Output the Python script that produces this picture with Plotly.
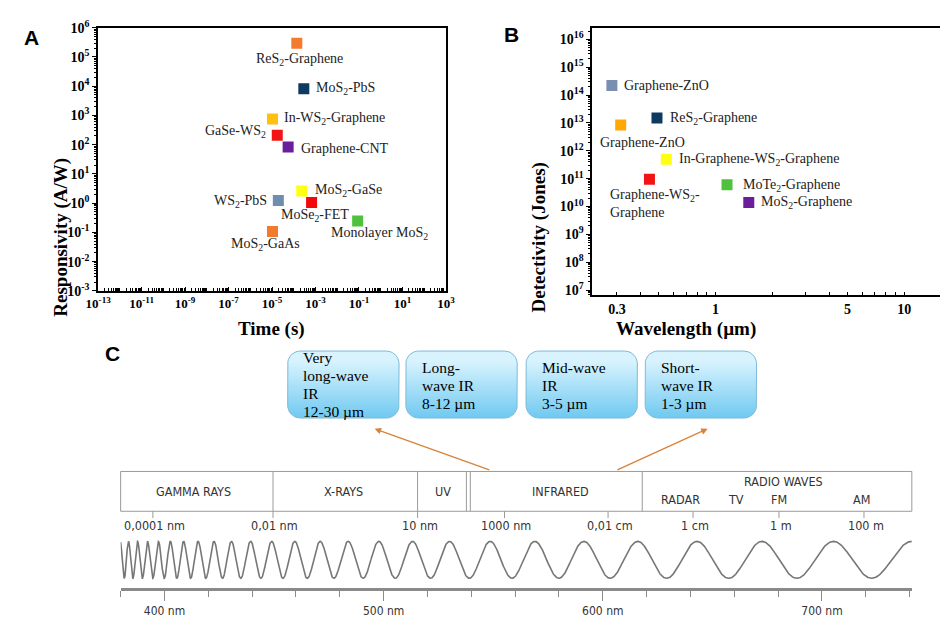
import numpy as np
import plotly.graph_objects as go

W, H = 948, 621

# ---------------- Panel A data ----------------
a_labels = ["ReS<sub>2</sub>-Graphene", "MoS<sub>2</sub>-PbS", "In-WS<sub>2</sub>-Graphene",
            "GaSe-WS<sub>2</sub>", "Graphene-CNT", "MoS<sub>2</sub>-GaSe", "WS<sub>2</sub>-PbS",
            "MoSe<sub>2</sub>-FET", "Monolayer MoS<sub>2</sub>", "MoS<sub>2</sub>-GaAs"]
a_time = [1.38e-4, 2.9e-4, 1.05e-5, 1.74e-5, 5.5e-5, 2.34e-4, 1.95e-5, 6.6e-4, 8.7e-2, 1.05e-5]
a_resp = [2.95e5, 8.1e3, 7.6e2, 2.1e2, 83, 2.6, 1.23, 1.05, 0.245, 0.107]
a_colors = ["#F47A2E", "#0D3A5E", "#FFC010", "#F21414", "#6A1E9C", "#FFFF10",
            "#6E8EAF", "#F20A0A", "#4DC23A", "#F27A2C"]
a_xticks = [1e-13, 1e-11, 1e-9, 1e-7, 1e-5, 1e-3, 1e-1, 1e1, 1e3]
a_xticktext = ["<b>10<sup>-13</sup></b>", "<b>10<sup>-11</sup></b>", "<b>10<sup>-9</sup></b>",
               "<b>10<sup>-7</sup></b>", "<b>10<sup>-5</sup></b>", "<b>10<sup>-3</sup></b>",
               "<b>10<sup>-1</sup></b>", "<b>10<sup>1</sup></b>", "<b>10<sup>3</sup></b>"]
a_yticks = [10.0 ** k for k in range(-3, 7)]
a_yticktext = ["<b>10<sup>%d</sup></b>" % k for k in range(-3, 7)]

# ---------------- Panel B data ----------------
b_labels = ["Graphene-ZnO", "Graphene-ZnO", "ReS<sub>2</sub>-Graphene",
            "In-Graphene-WS<sub>2</sub>-Graphene", "Graphene-WS<sub>2</sub>-<br>Graphene",
            "MoTe<sub>2</sub>-Graphene", "MoS<sub>2</sub>-Graphene"]
b_wl = [0.282, 0.314, 0.489, 0.548, 0.446, 1.15, 1.5]
b_det = [2.2e14, 8.5e12, 1.5e13, 5.0e11, 9.5e10, 6.0e10, 1.4e10]
b_colors = ["#7A8FB0", "#FFA808", "#0D3A5E", "#FFFF10", "#F21414", "#4DC23A", "#6A1E9C"]
b_xticks = [0.3, 1, 5, 10]
b_xticktext = ["<b>0.3</b>", "<b>1</b>", "<b>5</b>", "<b>10</b>"]
b_yticks = [10.0 ** k for k in range(7, 17)]
b_yticktext = ["<b>10<sup>%d</sup></b>" % k for k in range(7, 17)]

# ---------------- Panel C data ----------------
ir_box_lines = [["Very", "long-wave", "IR", "12-30 µm"],
                ["Long-", "wave IR", "8-12 µm"],
                ["Mid-wave", "IR", "3-5 µm"],
                ["Short-", "wave IR", "1-3 µm"]]
band_names = ["GAMMA RAYS", "X-RAYS", "UV", "INFRARED"]
radio_title = "RADIO WAVES"
radio_bands = ["RADAR", "TV", "FM", "AM"]
scale_labels = ["0,0001 nm", "0,01 nm", "10 nm", "1000 nm", "0,01 cm", "1 cm", "1 m", "100 m"]
visible_nm_major = [400, 500, 600, 700]
visible_nm_text = ["400 nm", "500 nm", "600 nm", "700 nm"]

# ---------- layout geometry (pixels) ----------
def fx(x):
    return x / W

def fy(y):
    return 1 - y / H

A_box = (79, 435, 10, 281)
B_box = (585, 942, 10, 285)

serif = "Liberation Serif, Times New Roman, serif"
sans = "Liberation Sans, Arial, sans-serif"
narrow = "Liberation Sans Narrow, DejaVu Sans Condensed, Roboto Condensed, Arial Narrow, sans-serif"

fig = go.Figure()

fig.add_trace(go.Scatter(x=a_time, y=a_resp, mode="markers", xaxis="x", yaxis="y",
                         marker=dict(symbol="square", size=11, color=a_colors, line=dict(width=0)),
                         hoverinfo="skip"))
fig.add_trace(go.Scatter(x=b_wl, y=b_det, mode="markers", xaxis="x2", yaxis="y2",
                         marker=dict(symbol="square", size=11, color=b_colors, line=dict(width=0)),
                         hoverinfo="skip"))

annotations = []
a_lab_pos = [("center", 3, -16), ("left", 10, 0), ("left", 10, 0), ("right", -9, 4),
             ("left", 11, -1), ("left", 11, 1), ("right", -9, -1), ("center", 3, -13),
             ("center", 22, -12), ("center", -7, -13)]
for t, xv, yv, (anc, dx, dy) in zip(a_labels, a_time, a_resp, a_lab_pos):
    annotations.append(dict(x=np.log10(xv), y=np.log10(yv), xref="x", yref="y", text=t,
                            showarrow=False, xanchor=anc, yanchor="middle", xshift=dx, yshift=dy,
                            font=dict(family=serif, size=14, color="#222")))

b_lab_pos = [("left", 10, 0, "middle"), ("center", 22, -18, "middle"), ("left", 11, 0, "middle"),
             ("left", 11, 0, "middle"), ("left", -41, -6, "top"), ("left", 14, -1, "middle"),
             ("left", 10, 0, "middle")]
for t, xv, yv, (anc, dx, dy, ya) in zip(b_labels, b_wl, b_det, b_lab_pos):
    annotations.append(dict(x=np.log10(xv), y=np.log10(yv), xref="x2", yref="y2", text=t,
                            showarrow=False, xanchor=anc, yanchor=ya, xshift=dx, yshift=dy,
                            align="left", font=dict(family=serif, size=14, color="#222")))

for letter, (x, y) in zip(["A", "B", "C"], [(11, 20), (502, 17), (94, 345)]):
    annotations.append(dict(x=fx(x), y=fy(y), xref="paper", yref="paper", text="<b>%s</b>" % letter,
                            showarrow=False, xanchor="center", yanchor="middle",
                            font=dict(family=sans, size=21, color="black")))

annotations += [
    dict(x=fx(220), y=fy(320), xref="paper", yref="paper", text="<b>Time (s)</b>", showarrow=False,
         font=dict(family=serif, size=19, color="black")),
    dict(x=fx(28), y=fy(142), xref="paper", yref="paper", text="<b>Responsivity (A/W)</b>",
         showarrow=False, textangle=-90, font=dict(family=serif, size=19, color="black")),
    dict(x=fx(755), y=fy(320), xref="paper", yref="paper", text="<b>Wavelength (µm)</b>",
         showarrow=False, font=dict(family=serif, size=19, color="black")),
    dict(x=fx(530), y=fy(147), xref="paper", yref="paper", text="<b>Detectivity (Jones)</b>",
         showarrow=False, textangle=-90, font=dict(family=serif, size=19, color="black")),
]

shapes = []

def rounded_rect(x0, y0, x1, y1, r):
    xs, ys = [], []
    corners = [(x1 - r, y0 + r, -90, 0), (x1 - r, y1 - r, 0, 90),
               (x0 + r, y1 - r, 90, 180), (x0 + r, y0 + r, 180, 270)]
    for cx, cy, a0, a1 in corners:
        for a in np.linspace(np.radians(a0), np.radians(a1), 10):
            xs.append(cx + r * np.cos(a))
            ys.append(cy + r * np.sin(a))
    xs.append(xs[0]); ys.append(ys[0])
    return xs, ys

box_left = [273, 394, 517, 639]
box_w, box_top, box_bot = 114, 343, 412
for i, lines in enumerate(ir_box_lines):
    x0 = box_left[i]
    xs, ys = rounded_rect(x0, box_top, x0 + box_w, box_bot, 13)
    fig.add_trace(go.Scatter(x=xs, y=ys, xaxis="x3", yaxis="y3", mode="lines", fill="toself",
                             line=dict(color="#7DBBD8", width=1),
                             fillgradient=dict(type="vertical",
                                               colorscale=[[0, "#5AC0EE"], [1, "#D8F3FE"]],
                                               start=box_bot, stop=box_top),
                             hoverinfo="skip"))
    first = 350 if len(lines) == 4 else 360
    for j, ln in enumerate(lines):
        annotations.append(dict(x=x0 + 14, y=first + j * 18.4, xref="x3", yref="y3", text=ln,
                                showarrow=False, xanchor="left", yanchor="middle",
                                font=dict(family=serif, size=15.5, color="black")))

for (xa, ya, xt, yt) in [(481, 466, 362, 423), (609, 466, 703, 423)]:
    annotations.append(dict(x=xt, y=yt, ax=xa, ay=ya, xref="x3", yref="y3", axref="x3", ayref="y3",
                            text="", showarrow=True, arrowhead=2, arrowsize=1, arrowwidth=1.3,
                            arrowcolor="#D8823A"))

sp_x0, sp_x1, sp_y0, sp_y1 = 102, 912, 467, 508
shapes.append(dict(type="rect", xref="x3", yref="y3", x0=sp_x0, x1=sp_x1, y0=sp_y0, y1=sp_y1,
                   line=dict(color="#9A9A9A", width=1)))
for xd in [258, 406, 456, 460, 636]:
    shapes.append(dict(type="line", xref="x3", yref="y3", x0=xd, x1=xd, y0=sp_y0, y1=sp_y1,
                       line=dict(color="#9A9A9A", width=1)))
for name, xc in zip(band_names, [177, 330, 432, 552]):
    annotations.append(dict(x=xc, y=488, xref="x3", yref="y3", text=name, showarrow=False,
                            font=dict(family=narrow, size=12.5, color="#333")))
annotations.append(dict(x=781, y=477, xref="x3", yref="y3", text=radio_title, showarrow=False,
                        font=dict(family=narrow, size=12.5, color="#333")))
for name, xc in zip(radio_bands, [675, 732, 776, 860]):
    annotations.append(dict(x=xc, y=496, xref="x3", yref="y3", text=name, showarrow=False,
                            font=dict(family=narrow, size=12.5, color="#333")))
scale_tick_x = [135, 258, 406, 495, 601, 688, 776, 863]
for name, xt in zip(scale_labels, scale_tick_x):
    shapes.append(dict(type="line", xref="x3", yref="y3", x0=xt, x1=xt, y0=sp_y1, y1=sp_y1 + 7,
                       line=dict(color="#9A9A9A", width=1)))
    annotations.append(dict(x=xt + 2, y=523, xref="x3", yref="y3", text=name, showarrow=False,
                            font=dict(family=narrow, size=12.5, color="#333")))

# chirped wave illustration over the visible-wavelength ruler (x4/y4 in nm)
nm0, nm1 = 380, 741
xs_nm = np.linspace(nm0, nm1, 3000)
p0, p1 = 3.6, 37.5
k = (p1 - p0) / (nm1 - nm0)
phase = 2 * np.pi / k * np.log((p0 + k * (xs_nm - nm0)) / p0)
wave = np.cos(phase - phase[-1])
fig.add_trace(go.Scatter(x=xs_nm, y=wave, xaxis="x4", yaxis="y4", mode="lines",
                         line=dict(color="#777777", width=1.6), hoverinfo="skip"))

fig.update_layout(
    width=W, height=H, margin=dict(l=0, r=0, t=0, b=0),
    paper_bgcolor="white", plot_bgcolor="rgba(0,0,0,0)", showlegend=False,
    xaxis=dict(type="log", domain=[fx(A_box[0]), fx(A_box[1])], range=[-13, 3], anchor="y",
               tickvals=a_xticks, ticktext=a_xticktext, ticks="inside", ticklen=4, tickwidth=1.3,
               tickcolor="black", showline=True, mirror=True, linewidth=2, linecolor="black",
               showgrid=False, zeroline=False,
               minor=dict(ticks="inside", ticklen=2.5, tickcolor="black", dtick="D1", showgrid=False),
               tickfont=dict(family=serif, size=13, color="black")),
    yaxis=dict(type="log", domain=[fy(A_box[3]), fy(A_box[2])], range=[-3, 6], anchor="x",
               tickvals=a_yticks, ticktext=a_yticktext, ticks="outside", ticklen=4, tickwidth=1.3,
               tickcolor="black", showline=True, mirror=True, linewidth=2, linecolor="black",
               showgrid=False, zeroline=False,
               minor=dict(ticks="outside", ticklen=2, tickcolor="black", dtick="D1", showgrid=False),
               tickfont=dict(family=serif, size=14, color="black")),
    xaxis2=dict(type="log", domain=[fx(B_box[0]), fx(B_box[1])], range=[-0.653, 1.196], anchor="y2",
                tickvals=b_xticks, ticktext=b_xticktext, ticks="inside", ticklen=3, tickwidth=1.3,
                tickcolor="black", showline=True, mirror=True, linewidth=2, linecolor="black",
                showgrid=False, zeroline=False,
                minor=dict(ticks="inside", ticklen=2.5, tickcolor="black", dtick="D1", showgrid=False),
                tickfont=dict(family=serif, size=14, color="black")),
    yaxis2=dict(type="log", domain=[fy(B_box[3]), fy(B_box[2])], range=[6.83, 16.42], anchor="x2",
                tickvals=b_yticks, ticktext=b_yticktext, ticks="outside", ticklen=4, tickwidth=1.3,
                tickcolor="black", showline=True, mirror=True, linewidth=2, linecolor="black",
                showgrid=False, zeroline=False,
                minor=dict(ticks="outside", ticklen=2, tickcolor="black", dtick="D1", showgrid=False),
                tickfont=dict(family=serif, size=14, color="black")),
    xaxis3=dict(domain=[0, 1], range=[0, W], anchor="y3", visible=False, fixedrange=True),
    yaxis3=dict(domain=[0, 1], range=[H, 0], anchor="x3", visible=False, fixedrange=True),
    xaxis4=dict(domain=[fx(sp_x0), fx(sp_x1)], range=[nm0, nm1], anchor="y4",
                tickvals=visible_nm_major, ticktext=visible_nm_text, ticks="outside", ticklen=10,
                tickwidth=1.3, tickcolor="#8A8A8A", showline=True, linewidth=2.5, linecolor="#8A8A8A",
                showgrid=False, zeroline=False, ticklabelstandoff=0,
                minor=dict(ticks="outside", ticklen=6, tickwidth=1.3, tickcolor="#8A8A8A",
                           tick0=380, dtick=20, showgrid=False),
                tickfont=dict(family=narrow, size=12, color="#333")),
    yaxis4=dict(domain=[fy(587), fy(529)], range=[-1.526, 1.526], anchor="x4", visible=False),
    annotations=annotations,
    shapes=shapes,
)

fig.write_html("out.html")
